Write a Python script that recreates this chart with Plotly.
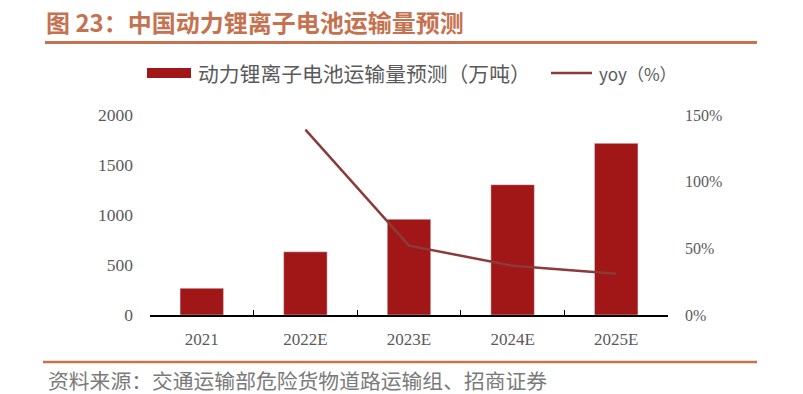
import plotly.graph_objects as go

categories = ["2021", "2022E", "2023E", "2024E", "2025E"]
volume = [268, 632, 958, 1303, 1717]          # 万吨
yoy_cats = ["2022E", "2023E", "2024E", "2025E"]
yoy = [139, 52, 37, 31]                         # %
left_ticks = [0, 500, 1000, 1500, 2000]
right_ticks = [0, 50, 100, 150]
right_labels = ["0%", "50%", "100%", "150%"]

bar_name = "动力锂离子电池运输量预测（万吨）"
line_name = "yoy（%）"
title_text = "图 23：中国动力锂离子电池运输量预测"
source_text = "资料来源：交通运输部危险货物道路运输组、招商证券"

BAR_COLOR = "#a11717"
LINE_COLOR = "#8c3a3a"
ACCENT = "#c6714f"
GREY = "#5a5a5a"
SERIF = "Liberation Serif, DejaVu Serif, serif"
CJK = "Noto Sans CJK SC, sans-serif"

fig = go.Figure()
fig.add_trace(go.Bar(x=categories, y=volume, name=bar_name, marker_color=BAR_COLOR,
                     width=0.42, showlegend=False))
fig.add_trace(go.Scatter(x=yoy_cats, y=yoy, name=line_name, yaxis="y2", mode="lines",
                         line=dict(color=LINE_COLOR, width=2.5), showlegend=False))

W, H = 803, 394
L, R, T, B = 150, 668, 115, 315
pw, ph = R - L, B - T

def px(x):
    return (x - L) / pw

def py(y):
    return (B - y) / ph

shapes = [
    dict(type="line", xref="paper", yref="paper", x0=px(45), x1=px(757), y0=py(42.5), y1=py(42.5),
         line=dict(color=ACCENT, width=3)),
    dict(type="line", xref="paper", yref="paper", x0=px(43), x1=px(757), y0=py(362), y1=py(362),
         line=dict(color=ACCENT, width=2.5)),
    dict(type="rect", xref="paper", yref="paper", x0=px(147), x1=px(191), y0=py(78), y1=py(68),
         fillcolor=BAR_COLOR, line=dict(width=0)),
    dict(type="line", xref="paper", yref="paper", x0=px(551), x1=px(592), y0=py(73), y1=py(73),
         line=dict(color=LINE_COLOR, width=2.5)),
]

annotations = [
    dict(text=bar_name, xref="paper", yref="paper", x=px(196), y=py(73), xanchor="left",
         yanchor="middle", showarrow=False, font=dict(family=CJK, size=20.8, color=GREY)),
    dict(text=line_name, xref="paper", yref="paper", x=px(597), y=py(73), xanchor="left",
         yanchor="middle", showarrow=False, font=dict(family=CJK, size=17, color=GREY)),
    dict(text=source_text, xref="paper", yref="paper", x=px(46), y=py(380), xanchor="left",
         yanchor="middle", showarrow=False, font=dict(family=CJK, size=20.8, color="#7a7a7a")),
]

fig.update_layout(
    width=W, height=H,
    margin=dict(l=L, r=W - R, t=T, b=H - B, pad=0),
    paper_bgcolor="white", plot_bgcolor="white",
    title=dict(text="<b>" + title_text + "</b>", x=46 / W, xanchor="left", xref="container",
               y=1 - 24 / H, yanchor="middle", font=dict(family=CJK, size=24, color=ACCENT)),
    xaxis=dict(type="category", categoryorder="array", categoryarray=categories,
               range=[-0.5, 4.5], showline=True, linecolor="black", linewidth=1.5,
               ticks="inside", tickson="boundaries", ticklen=5, tickcolor="black",
               showgrid=False, tickfont=dict(family=SERIF, size=17, color=GREY), ticklabelstandoff=8),
    yaxis=dict(range=[0, 2000], tickvals=left_ticks, showgrid=False, zeroline=False, showline=False,
               ticks="", tickfont=dict(family=SERIF, size=17.5, color=GREY), ticklabelstandoff=16),
    yaxis2=dict(range=[0, 150], tickvals=right_ticks, ticktext=right_labels, overlaying="y",
                side="right", showgrid=False, zeroline=False, showline=False, ticks="",
                tickfont=dict(family=SERIF, size=16, color=GREY), ticklabelstandoff=16),
    shapes=shapes, annotations=annotations,
)

fig.write_html("out.html", config={"displayModeBar": False},
               post_script="document.body.style.margin='0';document.body.style.overflow='hidden';")
